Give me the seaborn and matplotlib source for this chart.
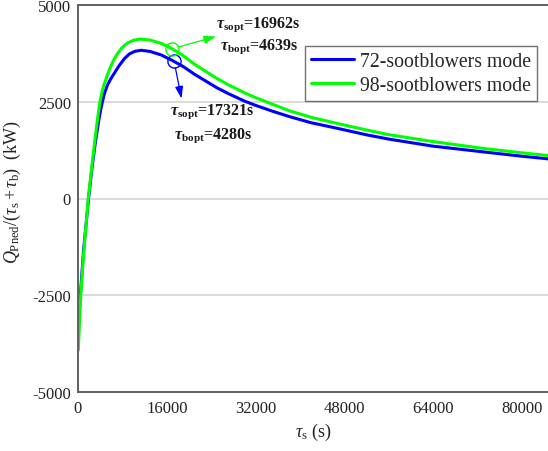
import numpy as np
import pandas as pd
import matplotlib
matplotlib.use("Agg")
import matplotlib.pyplot as plt
import seaborn as sns

# ---- data ----
x_72 = [30, 500, 1000, 1900, 2500, 3100, 3700, 4100, 4400, 4800, 5300, 5900,
        6600, 7400, 8400, 9300, 10300, 11400, 13000, 15000, 17000, 19000, 21000,
        25000, 27000, 30000, 32000, 35000, 38200, 42000, 47000, 52000, 56000,
        64000, 73000, 80000, 84700]
y_72 = [-3280, -2350, -1350, 0, 760, 1420, 1980, 2300, 2500, 2730, 2930, 3090,
        3250, 3430, 3620, 3740, 3805, 3830, 3799, 3709, 3566, 3406, 3210,
        2864, 2717, 2517, 2407, 2258, 2112, 1958, 1805, 1645, 1535,
        1352, 1205, 1092, 1025]
x_98 = [50, 490, 1000, 1860, 2400, 3000, 3500, 3960, 4300, 4700, 5200, 5800,
        6400, 7000, 7800, 8400, 9000, 10000, 11100, 13000, 15000, 17000, 19000,
        21000, 25000, 27000, 30000, 32000, 35000, 38200, 42000, 47000, 52000,
        56000, 64000, 73000, 80000, 84700]
y_98 = [-3920, -2500, -1450, 0, 720, 1450, 2040, 2500, 2740, 2950, 3150, 3380,
        3570, 3720, 3876, 3960, 4020, 4090, 4120, 4094, 4009, 3866, 3686,
        3470, 3104, 2945, 2732, 2607, 2438, 2262, 2098, 1930, 1770,
        1650, 1470, 1295, 1180, 1110]
series_names = ["72-sootblowers mode", "98-sootblowers mode"]
series_colors = ["#0000ff", "#00ff00"]
tau_sopt = [17321, 16962]
tau_bopt = [4280, 4639]
x_ticks = [0, 16000, 32000, 48000, 64000, 80000]
y_ticks = [-5000, -2500, 0, 2500, 5000]

df = pd.concat([
    pd.DataFrame({"tau": x_72, "Q": y_72, "mode": series_names[0]}),
    pd.DataFrame({"tau": x_98, "Q": y_98, "mode": series_names[1]}),
])

sns.set_theme(style="white")
plt.rcParams["font.family"] = ["Liberation Serif", "DejaVu Serif"]
plt.rcParams["mathtext.fontset"] = "custom"
plt.rcParams["mathtext.rm"] = "Liberation Serif"
plt.rcParams["mathtext.it"] = "Liberation Serif:italic"
plt.rcParams["mathtext.bf"] = "Liberation Serif:bold"
plt.rcParams["mathtext.bfit"] = "Liberation Serif:bold:italic"

W, H = 548, 452
fig = plt.figure(figsize=(W / 100, H / 100), dpi=100)
fig.patch.set_facecolor("white")
ax = fig.add_axes([78 / W, 1 - 393 / H, 470 / W, 387 / H])

sns.lineplot(data=df, x="tau", y="Q", hue="mode", palette=series_colors,
             linewidth=2.2, ax=ax, sort=False, estimator=None)

ax.set_xlim(0, 84700)
ax.set_ylim(-5000, 5000)
ax.set_xticks(x_ticks)
ax.set_yticks(y_ticks)
ax.set_xticklabels([str(v) for v in x_ticks])
ax.set_yticklabels([str(v) for v in y_ticks])
for v in [-2500, 0, 2500]:
    ax.axhline(v, color="#d4d4d4", lw=1.2, zorder=0)

for side in ["left", "bottom", "top"]:
    ax.spines[side].set_color("#606060")
    ax.spines[side].set_linewidth(1.4)
ax.spines["right"].set_visible(False)
ax.tick_params(axis="both", direction="in", length=5.5, width=1.2, color="#404040",
               labelsize=12, labelcolor="#222222")
ax.tick_params(axis="x", pad=6)
ax.tick_params(axis="y", pad=5)

ax.set_xlabel(r"$\tau_{\mathrm{s}}$ (s)", fontsize=13, labelpad=3, color="#222222")
ax.set_ylabel(r"$Q_{\mathrm{Pned}}/(\tau_{\mathrm{s}}+\tau_{\mathrm{b}})$  (kW)",
              fontsize=13, labelpad=4, color="#222222")
ax.yaxis.set_label_coords(-0.118, 0.52)

leg = ax.legend(loc="upper right", bbox_to_anchor=(0.9766, 0.895), borderaxespad=0,
                fontsize=14.2, frameon=True, fancybox=False, handlelength=2.2,
                handletextpad=0.3, labelspacing=0.28, borderpad=0.3)
leg.get_frame().set_edgecolor("#505050")
leg.get_frame().set_linewidth(1.0)
leg.set_title(None)
for line in leg.get_lines():
    line.set_linewidth(2.2)


def px2data(px, py):
    return ((px - 78) * 84700 / 470, (200 - py) * 10000 / 387)


# annotations
xs_all = [x_72, x_98]
ys_all = [y_72, y_98]
arrow_end_px = [(181.5, 100), (216, 38)]
text_px = [[(170.5, 115), (174, 139)], [(216.5, 28), (220, 50)]]
for i in range(2):
    cx = tau_sopt[i]
    cy = float(np.interp(cx, xs_all[i], ys_all[i]))
    ax.plot([cx], [cy], marker="o", ms=9.5, mfc="none", mec=series_colors[i], mew=1.0,
            zorder=5)
    ex, ey = px2data(*arrow_end_px[i])
    ax.annotate("", xy=(ex, ey), xytext=(cx, cy),
                arrowprops=dict(arrowstyle="-|>,head_length=0.6,head_width=0.2",
                                color=series_colors[i], lw=0.9, shrinkA=4.5, shrinkB=0))
    t1 = px2data(*text_px[i][0])
    t2 = px2data(*text_px[i][1])
    ax.text(t1[0], t1[1], r"$\mathbfit{\tau}_{\mathbf{sopt}}$" + f"={tau_sopt[i]}s",
            fontsize=11.5, fontweight="bold", va="baseline", ha="left", color="#1a1a1a")
    ax.text(t2[0], t2[1], r"$\mathbfit{\tau}_{\mathbf{bopt}}$" + f"={tau_bopt[i]}s",
            fontsize=11.5, fontweight="bold", va="baseline", ha="left", color="#1a1a1a")

fig.savefig("out.png", dpi=100)
